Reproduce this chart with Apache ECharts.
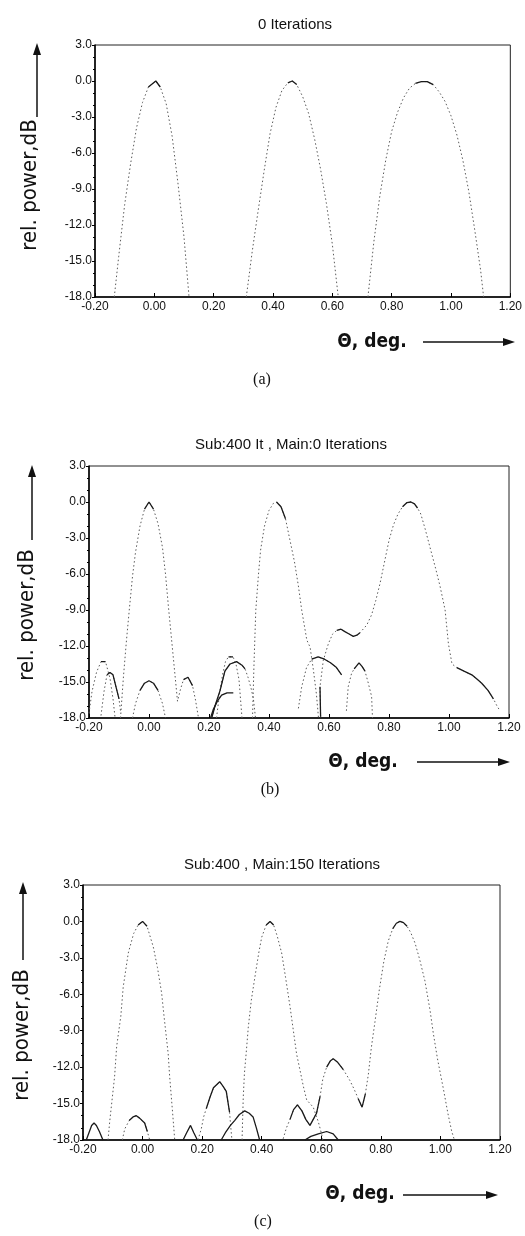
<!DOCTYPE html>
<html>
<head>
<meta charset="utf-8">
<script src="https://cdn.jsdelivr.net/npm/echarts@6/dist/echarts.min.js"></script>
<style>
  html, body { margin: 0; padding: 0; background: #fff; }
  #chart { width: 525px; height: 1236px; }
</style>
</head>
<body>
<div id="chart"></div>
<script>
// panel titles
var titles = ['0 Iterations', 'Sub:400 It , Main:0 Iterations', 'Sub:400 , Main:150 Iterations'];
var captions = ['(a)', '(b)', '(c)'];

// panel (a) - main lobes
var aLobe1 = [[-0.135,-18],[-0.12,-14.6],[-0.10,-10.3],[-0.08,-6.9],[-0.06,-3.9],[-0.04,-1.8],[-0.02,-0.5],[0.005,0],[0.02,-0.5],[0.04,-1.9],[0.06,-4.6],[0.08,-8.6],[0.10,-13.0],[0.117,-18]];
var aLobe2 = [[0.31,-18],[0.33,-14.2],[0.35,-10.8],[0.37,-7.5],[0.39,-4.4],[0.41,-2.2],[0.43,-0.8],[0.45,-0.15],[0.465,0],[0.48,-0.3],[0.50,-1.3],[0.52,-2.7],[0.54,-4.8],[0.56,-7.3],[0.58,-10.2],[0.60,-13.6],[0.62,-18]];
var aLobe3 = [[0.72,-18],[0.74,-13.4],[0.76,-9.6],[0.78,-6.6],[0.80,-4.2],[0.82,-2.6],[0.84,-1.4],[0.86,-0.6],[0.88,-0.2],[0.90,-0.05],[0.92,-0.05],[0.94,-0.3],[0.96,-0.9],[0.98,-1.7],[1.00,-2.9],[1.02,-4.5],[1.04,-6.6],[1.06,-9.2],[1.08,-12.4],[1.10,-15.8],[1.11,-18]];

// panel (b)
var bSide1 = [[-0.2,-17.6],[-0.19,-15.8],[-0.175,-14.2],[-0.16,-13.3],[-0.145,-13.3],[-0.13,-14.7],[-0.12,-16.4],[-0.113,-18]];
var bSide2 = [[-0.16,-17.8],[-0.15,-15.8],[-0.14,-14.4],[-0.13,-14.2],[-0.12,-14.4],[-0.11,-15.4],[-0.10,-16.4],[-0.095,-17.4]];
var bSide0 = [[-0.055,-18],[-0.045,-16.8],[-0.03,-15.7],[-0.015,-15.1],[0.0,-14.9],[0.015,-15.1],[0.03,-15.7],[0.045,-16.8],[0.055,-18]];
var bMain1 = [[-0.095,-18],[-0.085,-14.5],[-0.075,-11.5],[-0.065,-8.8],[-0.055,-6.2],[-0.045,-4.2],[-0.03,-2.0],[-0.015,-0.6],[0,0],[0.015,-0.6],[0.03,-1.8],[0.045,-3.8],[0.055,-6.0],[0.065,-8.8],[0.075,-11.4],[0.085,-14.0],[0.095,-16.6],[0.105,-15.6],[0.115,-14.8],[0.13,-14.6],[0.145,-15.3],[0.155,-16.5],[0.165,-18]];
var bArcTop = [[0.225,-18],[0.235,-16.0],[0.245,-14.4],[0.255,-13.3],[0.265,-12.9],[0.28,-12.9],[0.29,-13.5],[0.30,-14.8],[0.305,-16.4],[0.31,-18]];
var bArcMid = [[0.209,-18],[0.22,-17.0],[0.237,-15.7],[0.253,-14.1],[0.27,-13.5],[0.292,-13.3],[0.31,-13.6],[0.32,-13.9],[0.33,-14.6],[0.34,-15.5],[0.348,-16.4],[0.355,-18]];
var bArcLow = [[0.205,-18],[0.214,-17.3],[0.228,-16.6],[0.242,-16.1],[0.26,-15.9],[0.281,-15.9]];
var bMain2 = [[0.345,-18],[0.35,-13.5],[0.356,-9.0],[0.365,-6.0],[0.372,-4.0],[0.385,-2.0],[0.40,-0.7],[0.415,-0.1],[0.425,0],[0.44,-0.4],[0.455,-1.4],[0.47,-3.2],[0.485,-5.0],[0.498,-7.0],[0.509,-9.0],[0.526,-11.5],[0.537,-12.1],[0.548,-14.0],[0.558,-16.0],[0.565,-18]];
var bArc3 = [[0.498,-17.2],[0.509,-15.4],[0.525,-13.8],[0.542,-13.1],[0.564,-12.9],[0.585,-13.1],[0.605,-13.4],[0.625,-13.8],[0.642,-14.4]];
var bMain3 = [[0.572,-17.9],[0.570,-15.4],[0.581,-13.2],[0.598,-11.8],[0.612,-11.0],[0.626,-10.7],[0.64,-10.6],[0.653,-10.8],[0.667,-11.0],[0.681,-11.2],[0.693,-11.1],[0.703,-10.9],[0.726,-10.25],[0.742,-9.4],[0.756,-8.2],[0.77,-6.8],[0.785,-5.0],[0.8,-3.2],[0.815,-1.9],[0.83,-1.0],[0.845,-0.4],[0.86,-0.05],[0.873,0],[0.885,-0.15],[0.895,-0.5],[0.906,-1.0],[0.92,-2.2],[0.939,-4.0],[0.955,-5.5],[0.97,-7.0],[0.987,-9.0],[0.998,-11.8],[1.01,-13.5],[1.026,-13.8],[1.05,-14.1],[1.076,-14.4],[1.095,-14.8],[1.109,-15.1],[1.13,-15.7],[1.148,-16.4],[1.16,-17.0],[1.17,-17.4]];
var bSide4 = [[0.658,-17.4],[0.664,-15.4],[0.675,-14.3],[0.684,-13.9],[0.70,-13.4],[0.71,-13.7],[0.72,-14.1],[0.73,-15.0],[0.742,-16.2],[0.745,-18]];

// panel (c)
var cLobe1 = [[-0.116,-18],[-0.11,-16.4],[-0.094,-12.8],[-0.087,-10.3],[-0.073,-7.8],[-0.065,-5.4],[-0.048,-2.6],[-0.03,-1.0],[-0.015,-0.3],[0,0],[0.015,-0.4],[0.036,-2.1],[0.05,-3.8],[0.064,-5.9],[0.072,-7.8],[0.086,-10.9],[0.091,-12.8],[0.10,-15.5],[0.108,-18]];
var cLobe2 = [[0.334,-18],[0.338,-14.5],[0.342,-12.5],[0.348,-10.8],[0.355,-8.7],[0.365,-6.5],[0.377,-4.6],[0.39,-2.6],[0.40,-1.3],[0.415,-0.3],[0.428,0],[0.44,-0.3],[0.452,-1.2],[0.467,-2.6],[0.48,-4.6],[0.495,-7.0],[0.517,-10.9],[0.54,-13.6],[0.551,-14.7],[0.573,-15.3],[0.59,-16.5],[0.601,-17.5],[0.605,-18]];
var cLobe3 = [[0.472,-17.9],[0.483,-17.0],[0.495,-16.3],[0.507,-15.5],[0.52,-15.1],[0.535,-15.6],[0.548,-16.3],[0.562,-16.8],[0.573,-16.3],[0.584,-15.8],[0.596,-14.4],[0.605,-13.0],[0.618,-12.0],[0.63,-11.5],[0.64,-11.3],[0.655,-11.6],[0.674,-12.2],[0.696,-13.1],[0.71,-13.8],[0.724,-14.6],[0.737,-15.3],[0.748,-14.2],[0.758,-12.6],[0.768,-10.4],[0.78,-8.3],[0.795,-5.6],[0.81,-3.3],[0.825,-1.6],[0.84,-0.6],[0.852,-0.15],[0.864,0],[0.876,-0.1],[0.888,-0.4],[0.9,-0.9],[0.915,-1.8],[0.93,-3.1],[0.948,-4.9],[0.965,-7.3],[0.976,-9.2],[0.99,-11.3],[1.01,-13.8],[1.025,-15.8],[1.038,-17.3],[1.047,-18]];
var cSide1 = [[-0.189,-18],[-0.18,-17.4],[-0.171,-16.8],[-0.163,-16.6],[-0.155,-16.8],[-0.145,-17.3],[-0.133,-18]];
var cSide2 = [[-0.068,-18],[-0.06,-17.1],[-0.045,-16.4],[-0.032,-16.1],[-0.021,-16.0],[-0.01,-16.2],[0.007,-16.6],[0.016,-17.3],[0.024,-18]];
var cSide3 = [[0.136,-18],[0.148,-17.4],[0.161,-16.8],[0.172,-17.4],[0.184,-18]];
var cSide4 = [[0.186,-18],[0.197,-17.1],[0.205,-16.1],[0.214,-15.4],[0.226,-14.5],[0.238,-13.7],[0.259,-13.2],[0.271,-13.6],[0.281,-14.0],[0.292,-15.7],[0.296,-16.9],[0.3,-18]];
var cSide5 = [[0.264,-18],[0.278,-17.4],[0.295,-16.8],[0.309,-16.4],[0.325,-15.9],[0.343,-15.6],[0.358,-15.8],[0.371,-16.1],[0.382,-17.0],[0.393,-18]];
var cSide6 = [[0.545,-18],[0.565,-17.7],[0.59,-17.5],[0.618,-17.3],[0.64,-17.5],[0.657,-18]];

var chart = echarts.init(document.getElementById('chart'), null, {renderer: 'canvas'});

// plot boxes (left, top, width, height)
var boxes = [[95, 45, 417, 252], [89, 466, 420, 252], [83, 885, 417, 255]];

var font = 'Liberation Sans Narrow, Liberation Sans, Arial, sans-serif';

function dotted(g, data) {
    return {type: 'line', xAxisIndex: g, yAxisIndex: g, data: data, showSymbol: false,
        silent: true, lineStyle: {color: '#5a5a5a', width: 1, type: [1.5, 2.5]}, z: 2};
}
function solid(g, data, from, to) {
    return {type: 'line', xAxisIndex: g, yAxisIndex: g, data: data.slice(from, to + 1), showSymbol: false,
        silent: true, lineStyle: {color: '#1a1a1a', width: 1.3, type: 'solid'}, z: 3};
}

var grids = [], xAxes = [], yAxes = [], titleList = [];
boxes.forEach(function (b, i) {
    grids.push({left: b[0], top: b[1], width: b[2], height: b[3], show: true, borderColor: '#222', borderWidth: 1});
    xAxes.push({
        type: 'value', gridIndex: i, min: -0.2, max: 1.2, interval: 0.2,
        axisLine: {onZero: false, lineStyle: {color: '#000', width: 1.5}},
        axisTick: {inside: true, length: 4, lineStyle: {color: '#000'}},
        splitLine: {show: false},
        axisLabel: {color: '#111', fontFamily: font, fontSize: 12, margin: 4,
            formatter: function (v) { return v.toFixed(2); }}
    });
    yAxes.push({
        type: 'value', gridIndex: i, min: -18, max: 3, interval: 3,
        axisLine: {onZero: false, lineStyle: {color: '#000', width: 1.5}},
        axisTick: {length: 3, lineStyle: {color: '#000'}},
        minorTick: {show: true, splitNumber: 3, length: 2, lineStyle: {color: '#000'}},
        splitLine: {show: false},
        axisLabel: {color: '#111', fontFamily: font, fontSize: 12, margin: 3,
            formatter: function (v) { return v.toFixed(1); }}
    });
});

var titlePos = [[290, 12], [286, 432], [277, 852]];
titles.forEach(function (t, i) {
    titleList.push({text: t, left: titlePos[i][0], top: titlePos[i][1], textAlign: 'center',
        textStyle: {fontFamily: font, fontSize: 15, fontWeight: 'normal', color: '#111'}});
});

var series = [
    dotted(0, aLobe1), dotted(0, aLobe2), dotted(0, aLobe3),
    solid(0, aLobe1, 6, 8), solid(0, aLobe2, 7, 9), solid(0, aLobe3, 8, 11),

    dotted(1, bSide1), dotted(1, bSide2), dotted(1, bSide0), dotted(1, bMain1),
    dotted(1, bArcTop), dotted(1, bArcMid), dotted(1, bMain2), dotted(1, bArc3),
    dotted(1, bMain3), dotted(1, bSide4),
    solid(1, bSide1, 3, 4), solid(1, bSide2, 2, 6), solid(1, bSide0, 2, 6),
    solid(1, bMain1, 7, 9), solid(1, bMain1, 18, 20),
    solid(1, bArcTop, 4, 5), solid(1, bArcMid, 0, 7), solid(1, bArcLow, 0, 5),
    solid(1, bMain2, 8, 10), solid(1, bArc3, 3, 8),
    solid(1, bMain3, 0, 1), solid(1, bMain3, 5, 11), solid(1, bMain3, 20, 24), solid(1, bMain3, 33, 39),
    solid(1, bSide4, 3, 6),

    dotted(2, cLobe1), dotted(2, cLobe2), dotted(2, cLobe3),
    solid(2, cLobe1, 8, 10), solid(2, cLobe2, 9, 11),
    solid(2, cLobe3, 2, 10), solid(2, cLobe3, 12, 16), solid(2, cLobe3, 19, 21), solid(2, cLobe3, 28, 32),
    solid(2, cSide1, 0, 6), dotted(2, cSide2), solid(2, cSide2, 2, 7), solid(2, cSide3, 0, 4),
    dotted(2, cSide4), solid(2, cSide4, 3, 9), solid(2, cSide5, 0, 9), solid(2, cSide6, 0, 5)
];

// decorations: axis captions and arrows
var labelFont = 'DejaVu Sans Condensed, DejaVu Sans, sans-serif';
var yLab = [[30, 185], [27, 615], [22, 1035]];
var upArrow = [[37, 117, 43], [32, 540, 465], [23, 960, 882]];
var xLab = [[372, 342], [363, 762], [360, 1194]];
var rightArrow = [[423, 515, 342], [417, 510, 762], [403, 498, 1195]];
var capPos = [[262, 380], [270, 790], [263, 1222]];

var graphic = [];
for (var i = 0; i < 3; i++) {
    graphic.push({type: 'text', x: yLab[i][0], y: yLab[i][1], rotation: Math.PI / 2,
        style: {text: 'rel. power,dB', font: '22px ' + labelFont, fill: '#111', align: 'center', verticalAlign: 'middle'}});
    graphic.push({type: 'line', shape: {x1: upArrow[i][0], y1: upArrow[i][1], x2: upArrow[i][0], y2: upArrow[i][2] + 10},
        style: {stroke: '#111', lineWidth: 1.5}});
    graphic.push({type: 'polygon', shape: {points: [[upArrow[i][0], upArrow[i][2]], [upArrow[i][0] - 4, upArrow[i][2] + 12], [upArrow[i][0] + 4, upArrow[i][2] + 12]]},
        style: {fill: '#111'}});
    graphic.push({type: 'text', x: xLab[i][0], y: xLab[i][1],
        style: {text: '\u0398, deg.', font: 'bold 19px ' + labelFont, fill: '#111', align: 'center', verticalAlign: 'middle'}});
    graphic.push({type: 'line', shape: {x1: rightArrow[i][0], y1: rightArrow[i][2], x2: rightArrow[i][1] - 10, y2: rightArrow[i][2]},
        style: {stroke: '#111', lineWidth: 1.5}});
    graphic.push({type: 'polygon', shape: {points: [[rightArrow[i][1], rightArrow[i][2]], [rightArrow[i][1] - 12, rightArrow[i][2] - 4], [rightArrow[i][1] - 12, rightArrow[i][2] + 4]]},
        style: {fill: '#111'}});
    graphic.push({type: 'text', x: capPos[i][0], y: capPos[i][1],
        style: {text: captions[i], font: '16px Liberation Serif, serif', fill: '#111', align: 'center', verticalAlign: 'middle'}});
}

var option = {
    animation: false,
    backgroundColor: '#fff',
    title: titleList,
    grid: grids,
    xAxis: xAxes,
    yAxis: yAxes,
    series: series,
    graphic: graphic
};
chart.setOption(option);
</script>
</body>
</html>
